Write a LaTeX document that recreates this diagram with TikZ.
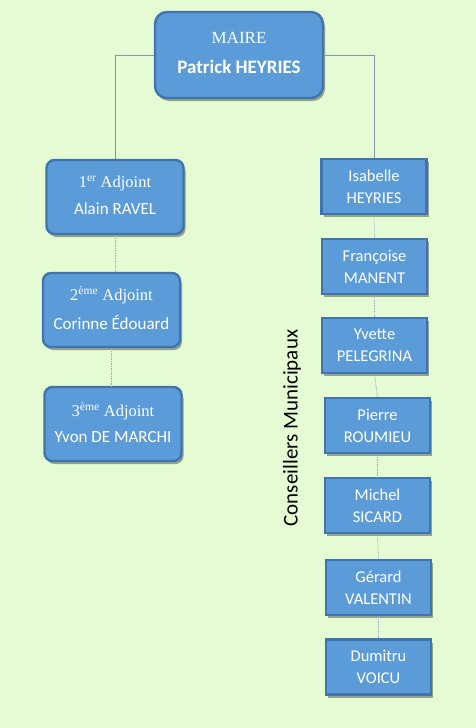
\documentclass[tikz,border=0pt]{standalone}
\usepackage{fontspec}
\setmainfont{Liberation Serif}
\newfontfamily\calfont{Carlito}
\usetikzlibrary{shadows}
\definecolor{bgcol}{HTML}{E4FBD3}
\definecolor{boxblue}{HTML}{5B9BD8}
\definecolor{boxedge}{HTML}{3F74AE}
\definecolor{linecol}{HTML}{7F97B0}
\tikzset{
  boxbase/.style={fill=boxblue, draw=boxedge, line width=2.4pt, text=white, align=center,
    inner sep=0pt, drop shadow={shadow xshift=2pt, shadow yshift=-3pt, fill=black, opacity=0.35}},
  mairebox/.style={boxbase, rounded corners=12pt, minimum width=168pt, minimum height=86pt},
  adjbox/.style={boxbase, rounded corners=8pt, minimum width=137pt, minimum height=74pt},
  consbox/.style={boxbase, minimum width=105pt, minimum height=55pt, font=\calfont\fontsize{16.5}{18}\selectfont},
  solidlink/.style={draw=linecol, line width=0.6pt},
  dashlink/.style={draw=linecol!80, line width=0.6pt, dash pattern=on 1.5pt off 1pt},
}
% #1 first line, #2 second line, #3 gap, #4 raise
\newcommand{\twolines}[4]{\raisebox{#4}{\begin{tabular}{@{}c@{}}#1\\[#3]#2\end{tabular}}}
\newcommand{\serifline}[1]{{\fontsize{16.5}{18}\selectfont #1}}
\newcommand{\calline}[1]{{\calfont\fontsize{17}{19}\selectfont #1}}
\begin{document}
\begin{tikzpicture}[x=1pt,y=-1pt]
\fill[bgcol] (0,0) rectangle (476,728);
\useasboundingbox (0,0) rectangle (476,728);

\node[mairebox] (maire) at (239,55) {\twolines{{\fontsize{17}{19}\selectfont MAIRE}}{{\calfont\bfseries\fontsize{19}{21}\selectfont Patrick HEYRIES}}{13pt}{10pt}};

\node[adjbox] (a1) at (115,197) {\twolines{\serifline{1\textsuperscript{er} Adjoint}}{\calline{Alain RAVEL}}{11pt}{9pt}};
\node[adjbox] (a2) at (111.5,310) {\twolines{\serifline{2\textsuperscript{ème} Adjoint}}{\calline{Corinne Édouard}}{11pt}{9pt}};
\node[adjbox] (a3) at (113,424) {\twolines{\serifline{3\textsuperscript{ème} Adjoint}}{\calline{Yvon DE MARCHI}}{11pt}{9pt}};

\node[consbox] (c1) at (374,186.5) {Isabelle\\[4pt]HEYRIES};
\node[consbox] (c2) at (374.5,266.5) {Françoise\\[4pt]MANENT};
\node[consbox] (c3) at (374.5,345.5) {Yvette\\[4pt]PELEGRINA};
\node[consbox] (c4) at (377.5,425.5) {Pierre\\[4pt]ROUMIEU};
\node[consbox] (c5) at (377.5,505.5) {Michel\\[4pt]SICARD};
\node[consbox] (c6) at (378.5,587.5) {Gérard\\[4pt]VALENTIN};
\node[consbox] (c7) at (378.5,667) {Dumitru\\[4pt]VOICU};

\node[rotate=90, font=\calfont\fontsize{21}{23}\selectfont] (label) at (292,428) {Conseillers Municipaux};

\draw[solidlink] (maire.west) -| (a1.north);
\draw[solidlink] (maire.east) -| (c1.north);
\draw[dashlink] (a1.south) -- (a1.south |- a2.north);
\draw[dashlink] (a2.south) -- (a2.south |- a3.north);
\foreach \p/\q in {c1/c2,c2/c3,c3/c4,c4/c5,c5/c6,c6/c7}{
  \draw[dashlink] (\p.south) -- (\q.north);
}
\end{tikzpicture}
\end{document}
